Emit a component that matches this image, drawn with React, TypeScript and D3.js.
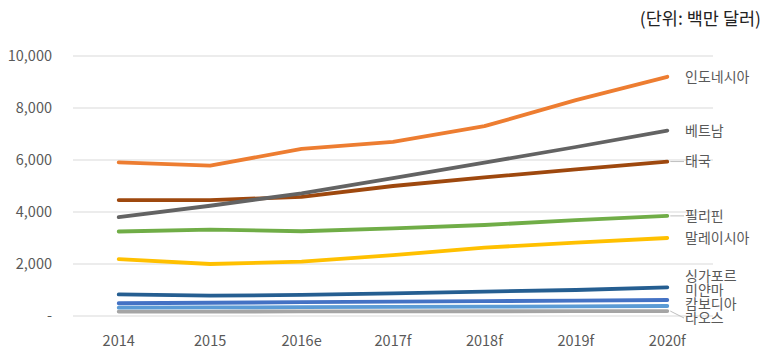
import React from "react";
import * as d3 from "d3";

const categories = ["2014", "2015", "2016e", "2017f", "2018f", "2019f", "2020f"];
const countries = ["인도네시아", "베트남", "태국", "필리핀", "말레이시아", "싱가포르", "미얀마", "캄보디아", "라오스"];
const indonesia = [5910, 5780, 6430, 6700, 7300, 8300, 9200];
const vietnam = [3800, 4240, 4720, 5300, 5900, 6500, 7130];
const thailand = [4460, 4460, 4580, 5000, 5330, 5640, 5940];
const philippines = [3250, 3320, 3260, 3370, 3500, 3690, 3850];
const malaysia = [2190, 2000, 2090, 2340, 2630, 2820, 3000];
const singapore = [830, 780, 810, 870, 940, 1000, 1100];
const myanmar = [490, 510, 530, 550, 570, 595, 615];
const cambodia = [320, 330, 340, 350, 360, 372, 385];
const laos = [170, 172, 175, 178, 182, 186, 190];
const yTicks = [0, 2000, 4000, 6000, 8000, 10000];
const colors = ["#ED7D31", "#636363", "#9E480E", "#70AD47", "#FFC000", "#255E91", "#4472C4", "#5B9BD5", "#A5A5A5"];
const leaderFor = ["태국", "필리핀", "라오스"];

const seriesValues = [indonesia, vietnam, thailand, philippines, malaysia, singapore, myanmar, cambodia, laos];

export default function App() {
  const W = 768, H = 355;
  const x = d3.scaleBand().domain(categories).range([73, 713]);
  const y = d3.scaleLinear().domain([0, 10000]).range([316, 56]);
  const cx = (c: string) => (x(c) as number) + x.bandwidth() / 2;
  const line = d3.line<number>().x((_, i) => cx(categories[i])).y((v) => y(v));

  // label placement with simple collision avoidance
  const gap = 14;
  const items = countries.map((name, i) => ({ name, i, want: y(seriesValues[i][6]), pos: 0 }));
  items.sort((a, b) => a.want - b.want);
  const groups: { members: typeof items }[] = [];
  items.forEach((it) => {
    const last = groups[groups.length - 1];
    if (last) {
      const lm = last.members[last.members.length - 1];
      if (it.want - lm.want < gap) { last.members.push(it); return; }
    }
    groups.push({ members: [it] });
  });
  groups.forEach((g) => {
    const mean = d3.mean(g.members, (m) => m.want) as number;
    const n = g.members.length;
    let start = mean - ((n - 1) * gap) / 2;
    const bottom = y(0) + 2;
    if (start + (n - 1) * gap > bottom) start = bottom - (n - 1) * gap;
    g.members.forEach((m, k) => (m.pos = start + k * gap));
  });

  const lastX = cx(categories[6]);
  const font = "'Noto Sans CJK KR', 'Noto Sans', sans-serif";

  return (
    <svg width={W} height={H} style={{ position: "absolute", left: 0, top: 0, background: "#fff" }} fontFamily={font}>
      <text x={761} y={25} textAnchor="end" fontSize={17.5} fill="#222">(단위: 백만 달러)</text>
      {yTicks.map((t) => (
        <g key={t}>
          <line x1={73} x2={713} y1={y(t)} y2={y(t)} stroke="#D9D9D9" strokeWidth={1} />
          <text x={52} y={y(t)} dy="0.35em" textAnchor="end" fontSize={14.5} fill="#595959">
            {t === 0 ? "-" : d3.format(",")(t)}
          </text>
        </g>
      ))}
      {categories.map((c) => (
        <text key={c} x={cx(c)} y={346} textAnchor="middle" fontSize={14.5} fill="#595959">{c}</text>
      ))}
      {[...seriesValues].map((_, k) => seriesValues.length - 1 - k).map((i) => (
        <path key={countries[i]} d={line(seriesValues[i]) as string} fill="none" stroke={colors[i]} strokeWidth={3.8} strokeLinejoin="round" strokeLinecap="round" />
      ))}
      {items.map((it) => (
        <g key={it.name}>
          {leaderFor.includes(it.name) && (
            <line x1={lastX + 3} x2={684} y1={y(seriesValues[it.i][6])} y2={it.pos} stroke="#BFBFBF" strokeWidth={1} />
          )}
          <text x={685} y={it.pos} dy="0.35em" fontSize={14} fill="#595959">{it.name}</text>
        </g>
      ))}
    </svg>
  );
}
